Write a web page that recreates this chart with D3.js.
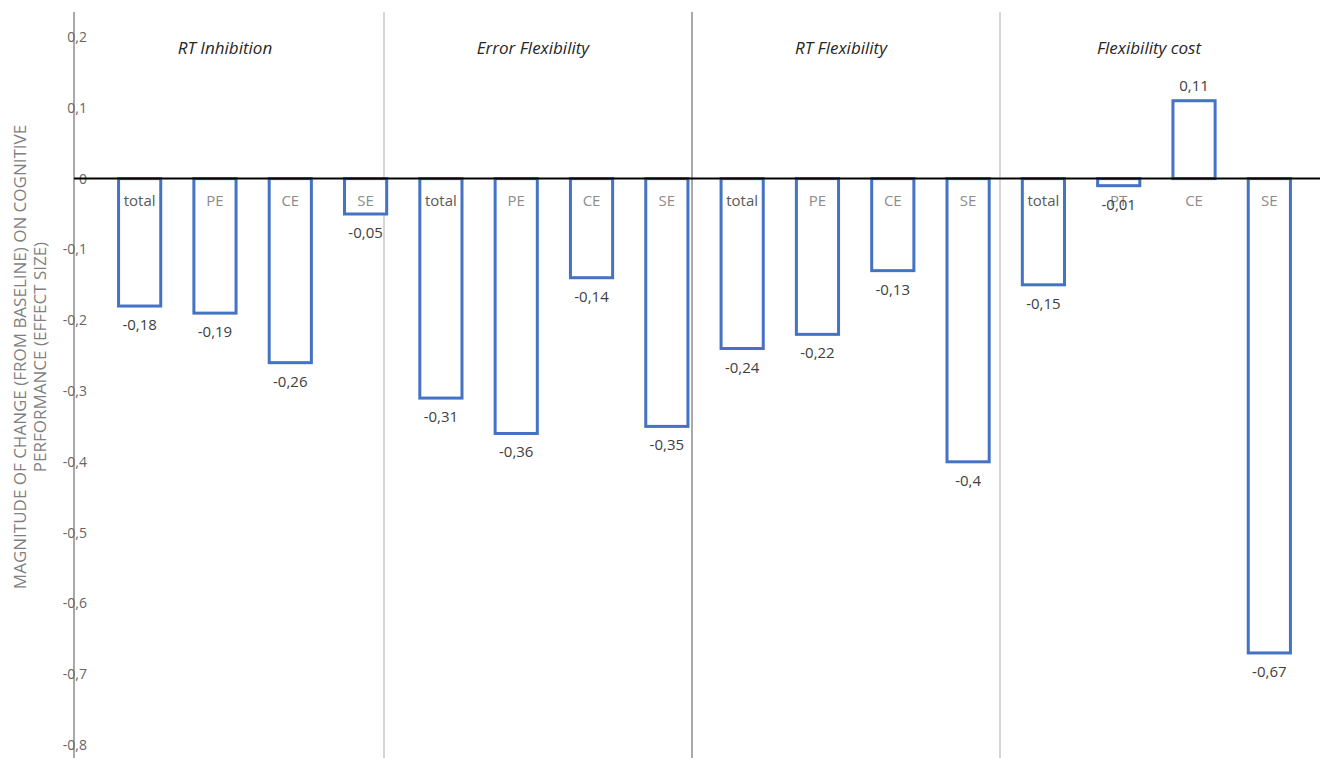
<!DOCTYPE html>
<html>
<head>
<meta charset="utf-8">
<script src="https://cdn.jsdelivr.net/npm/d3@7"></script>
<style>
  html, body { margin: 0; padding: 0; background: #fff; }
  svg { display: block; font-family: "Open Sans", "Noto Sans", sans-serif; }
</style>
</head>
<body>
<svg id="chart" width="1320" height="758"></svg>
<script>
// Effect sizes per outcome, grouped by task measure
const groups = ["RT Inhibition", "Error Flexibility", "RT Flexibility", "Flexibility cost"];
const subLabels = [
  ["total", "PE", "CE", "SE"],
  ["total", "PE", "CE", "SE"],
  ["total", "PE", "CE", "SE"],
  ["total", "PT", "CE", "SE"]
];
const values = [
  [-0.18, -0.19, -0.26, -0.05],
  [-0.31, -0.36, -0.14, -0.35],
  [-0.24, -0.22, -0.13, -0.40],
  [-0.15, -0.01, 0.11, -0.67]
];
const yTicks = [0.2, 0.1, 0, -0.1, -0.2, -0.3, -0.4, -0.5, -0.6, -0.7, -0.8];
const yTitleLines = ["MAGNITUDE OF CHANGE (FROM BASELINE) ON COGNITIVE", "PERFORMANCE (EFFECT SIZE)"];

const bars = [];
groups.forEach((g, gi) => {
  subLabels[gi].forEach((s, si) => {
    bars.push({ key: gi + "-" + si, group: g, label: s, value: values[gi][si] });
  });
});

const svg = d3.select("#chart");
const W = 1320, H = 758;
const plotTop = 12, plotBottom = 758, axisX = 74;

const y = d3.scaleLinear().domain([-0.8, 0.2]).range([745, 37]);
const x = d3.scaleBand().domain(bars.map(d => d.key)).range([102, 1307])
  .paddingInner(0.44).paddingOuter(0.22);
const gx = d3.scaleBand().domain(groups).range([76, 1308]);

const fmt = v => (Math.abs(v) < 1e-9 ? "0" : String(+v.toFixed(2)).replace(".", ","));

// group separators
svg.append("g").selectAll("line")
  .data(groups.slice(1))
  .join("line")
  .attr("x1", d => gx(d)).attr("x2", d => gx(d))
  .attr("y1", plotTop).attr("y2", plotBottom)
  .attr("stroke", (d, i) => i === 1 ? "#8c8c8c" : "#c8c8c8")
  .attr("stroke-width", 1.5);

// y axis line
svg.append("line")
  .attr("x1", axisX).attr("x2", axisX)
  .attr("y1", plotTop).attr("y2", plotBottom)
  .attr("stroke", "#8c8c8c").attr("stroke-width", 1.5);

// tick labels
svg.append("g").selectAll("text")
  .data(yTicks)
  .join("text")
  .attr("x", 87)
  .attr("y", d => y(d))
  .attr("dy", "0.35em")
  .attr("text-anchor", "end")
  .attr("font-size", 14)
  .attr("fill", "#666")
  .text(fmt);

// y axis title
const yt = svg.append("g").attr("transform", "translate(0,357) rotate(-90)");
yt.selectAll("text")
  .data(yTitleLines)
  .join("text")
  .attr("x", 0)
  .attr("y", (d, i) => 26 + i * 20)
  .attr("text-anchor", "middle")
  .attr("font-size", 17)
  .attr("fill", "#7f7f7f")
  .text(d => d);

// group titles
svg.append("g").selectAll("text")
  .data(groups)
  .join("text")
  .attr("x", d => gx(d) + gx.bandwidth() / 2 - 5)
  .attr("y", 54)
  .attr("text-anchor", "middle")
  .attr("font-size", 17)
  .attr("font-style", "italic")
  .attr("fill", "#262626")
  .text(d => d);

// bars
svg.append("g").selectAll("rect")
  .data(bars)
  .join("rect")
  .attr("x", d => x(d.key))
  .attr("width", x.bandwidth())
  .attr("y", d => Math.min(y(d.value), y(0)))
  .attr("height", d => Math.abs(y(d.value) - y(0)))
  .attr("fill", "#fff")
  .attr("stroke", "#4472c4")
  .attr("stroke-width", 3);

// zero line
svg.append("line")
  .attr("x1", axisX).attr("x2", W)
  .attr("y1", y(0)).attr("y2", y(0))
  .attr("stroke", "#000").attr("stroke-width", 2);

// category labels inside bars, just under the zero line
svg.append("g").selectAll("text")
  .data(bars)
  .join("text")
  .attr("x", d => x(d.key) + x.bandwidth() / 2)
  .attr("y", y(0) + 27)
  .attr("text-anchor", "middle")
  .attr("font-size", 15)
  .attr("fill", d => d.label === "total" ? "#595959" : "#8c8c8c")
  .text(d => d.label);

// value labels
svg.append("g").selectAll("text")
  .data(bars)
  .join("text")
  .attr("x", d => x(d.key) + x.bandwidth() / 2)
  .attr("y", d => d.value < 0 ? y(d.value) + 24 : y(d.value) - 10)
  .attr("text-anchor", "middle")
  .attr("font-size", 15)
  .attr("fill", "#404040")
  .text(d => fmt(d.value));
</script>
</body>
</html>
